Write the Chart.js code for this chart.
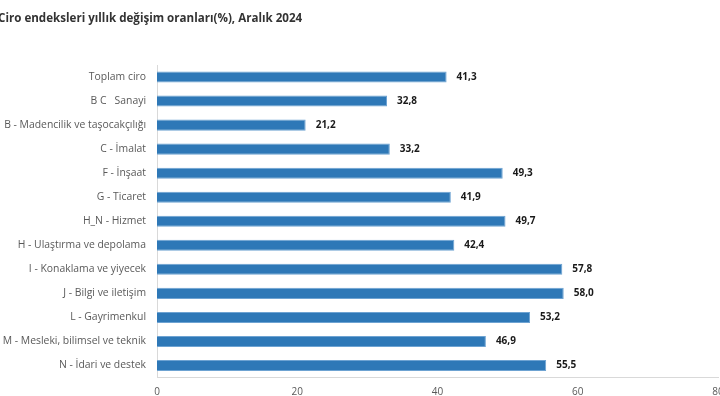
<!DOCTYPE html>
<html>
<head>
<meta charset="utf-8">
<script src="https://cdn.jsdelivr.net/npm/chart.js@4"></script>
<style>
  html, body { margin: 0; padding: 0; background: #fff; overflow: hidden; }
  #wrap { width: 720px; height: 396px; position: relative; }
</style>
</head>
<body>
<div id="wrap"><canvas id="ciroChart"></canvas></div>
<script>
// chart data
const categories = [
  "Toplam ciro",
  "B C   Sanayi",
  "B - Madencilik ve taşocakçılığı",
  "C - İmalat",
  "F - İnşaat",
  "G - Ticaret",
  "H_N - Hizmet",
  "H - Ulaştırma ve depolama",
  "I - Konaklama ve yiyecek",
  "J - Bilgi ve iletişim",
  "L - Gayrimenkul",
  "M - Mesleki, bilimsel ve teknik",
  "N - İdari ve destek"
];
const changeRates = [41.3, 32.8, 21.2, 33.2, 49.3, 41.9, 49.7, 42.4, 57.8, 58.0, 53.2, 46.9, 55.5];
const xTicks = [0, 20, 40, 60, 80];
const chartTitle = "Ciro endeksleri yıllık değişim oranları(%), Aralık 2024";

const fontFamily = "'Open Sans', 'Noto Sans', sans-serif";

// title drawn at the top left
const titlePlugin = {
  id: "titleText",
  afterDraw(chart) {
    const ctx = chart.ctx;
    ctx.save();
    ctx.font = "bold 11.6px " + fontFamily;
    ctx.fillStyle = "#333333";
    ctx.textAlign = "left";
    ctx.textBaseline = "middle";
    ctx.fillText(chartTitle, -2, 19);
    ctx.restore();
  }
};

// value labels after each bar
const valueLabels = {
  id: "valueLabels",
  afterDatasetsDraw(chart) {
    const ctx = chart.ctx;
    const meta = chart.getDatasetMeta(0);
    ctx.save();
    ctx.font = "bold 10px " + fontFamily;
    ctx.fillStyle = "#1a1a1a";
    ctx.textAlign = "left";
    ctx.textBaseline = "middle";
    meta.data.forEach((bar, i) => {
      const txt = changeRates[i].toFixed(1).replace(".", ",");
      ctx.fillText(txt, bar.x + 10, bar.y);
    });
    ctx.restore();
  }
};

new Chart(document.getElementById("ciroChart"), {
  type: "bar",
  data: {
    labels: categories,
    datasets: [{
      data: changeRates,
      backgroundColor: "#2e78b7",
      borderColor: "#6ea3d2",
      borderWidth: 1,
      barPercentage: 0.46,
      categoryPercentage: 1
    }]
  },
  options: {
    indexAxis: "y",
    responsive: true,
    maintainAspectRatio: false,
    animation: false,
    layout: { padding: { top: 65, right: 2, left: 0, bottom: 0 } },
    plugins: {
      legend: { display: false },
      tooltip: { enabled: false }
    },
    scales: {
      x: {
        min: 0,
        max: 80,
        afterBuildTicks(scale) {
          scale.ticks = xTicks.map(v => ({ value: v }));
        },
        afterFit(scale) {
          scale.height = 18.5;
          scale.paddingLeft = 0;
          scale.paddingRight = 0;
        },
        grid: { display: false, drawTicks: false },
        border: { display: true, color: "#d9d9d9" },
        ticks: {
          padding: 9,
          color: "#595959",
          font: { family: fontFamily, size: 10 }
        }
      },
      y: {
        afterFit(scale) { scale.width = 157; },
        grid: { display: false, drawTicks: false },
        border: { display: true, color: "#d9d9d9" },
        ticks: {
          padding: 11,
          color: "#595959",
          font: { family: fontFamily, size: 10.4 }
        }
      }
    }
  },
  plugins: [titlePlugin, valueLabels]
});
</script>
</body>
</html>
